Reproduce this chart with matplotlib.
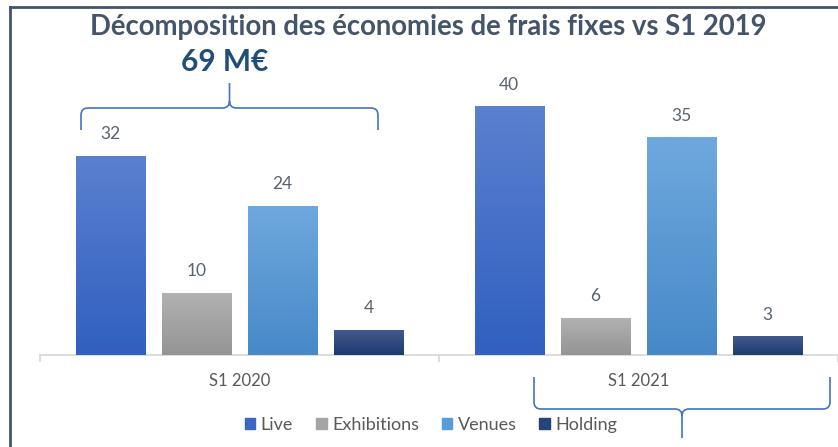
import matplotlib
matplotlib.use('Agg')
import matplotlib.pyplot as plt
import matplotlib.transforms as mtransforms
from matplotlib.path import Path
from matplotlib.patches import PathPatch
from matplotlib.lines import Line2D
import matplotlib.colors as mcolors
import numpy as np

periods = ["S1 2020", "S1 2021"]
series = ["Live", "Exhibitions", "Venues", "Holding"]
live = [32, 40]
exhibitions = [10, 6]
venues = [24, 35]
holding = [4, 3]
total_label = "69 M€"
title = "Décomposition des économies de frais fixes vs S1 2019"

# (top colour, bottom colour) per series
colors = [("#5b80d0", "#3060c0"),
          ("#b2b2b2", "#949494"),
          ("#6fa8de", "#4789c8"),
          ("#44598a", "#1d3a72")]
legend_colors = ["#3a66c4", "#a5a5a5", "#5b9bd5", "#264478"]

plt.rcParams['font.family'] = ['Lato', 'DejaVu Sans']
TEXT = "#595959"
W, H = 838, 447

fig = plt.figure(figsize=(W / 100, H / 100), dpi=100)
# pixel coords with origin at top-left
px = mtransforms.Affine2D().scale(1, -1).translate(0, H).scale(1 / W, 1 / H) + fig.transFigure

ax = fig.add_axes([40 / W, (H - 355) / H, (W - 40) / W, 280 / H])
x = np.arange(len(periods))
step = 0.216
bw = 0.173
values = [live, exhibitions, venues, holding]
for i, (vals, (c_top, c_bot)) in enumerate(zip(values, colors)):
    pos = x + (i - 1.5) * step
    bars = ax.bar(pos, vals, width=bw, color=c_bot, zorder=2)
    cmap = mcolors.LinearSegmentedColormap.from_list("g", [c_bot, c_top])
    grad = np.linspace(0, 1, 100).reshape(-1, 1)
    for b, v in zip(bars, vals):
        im = ax.imshow(grad, cmap=cmap, origin='lower', aspect='auto', zorder=3,
                       extent=[b.get_x(), b.get_x() + bw, 0, v])
        im.set_clip_path(b)
        ax.text(b.get_x() + bw / 2, v + 2.2, f"{v}", ha='center', va='bottom',
                fontsize=12.5, color="#5a6272")

ax.set_xlim(-0.5, -0.5 + (W - 40) / 406)
ax.set_ylim(0, 280 / 6.22)
for s in ['top', 'right', 'left']:
    ax.spines[s].set_visible(False)
ax.spines['bottom'].set_color("#d9d9d9")
ax.spines['bottom'].set_linewidth(1.3)
ax.set_yticks([])
ax.set_xticks([-0.5, 0.5, 1.5])
ax.tick_params(axis='x', length=5, color="#d9d9d9", width=1.3, labelbottom=False)
for xi, lab in zip(x, periods):
    ax.text(xi, -4.2, lab, ha='center', va='center', fontsize=12, color=TEXT)

# frame lines (top and left)
fig.add_artist(Line2D([10, W], [7, 7], transform=px, color="#44546a", lw=2))
fig.add_artist(Line2D([10, 10], [7, H], transform=px, color="#44546a", lw=2))

fig.text(428 / W, (H - 27) / H, title, ha='center', va='center', fontsize=19.8,
         fontweight='bold', color="#44546a")
fig.text(225 / W, (H - 62) / H, total_label, ha='center', va='center', fontsize=21.5,
         fontweight='bold', color="#1f4e79")


def brace(x0, x1, yb, yend, ytip, r=7):
    xm = (x0 + x1) / 2
    d = 1 if yend > yb else -1
    verts = [(x0, yend), (x0, yb + d * r), (x0, yb), (x0 + r, yb),
             (xm - r, yb), (xm, yb), (xm, yb - d * r), (xm, ytip),
             (xm, yb - d * r), (xm, yb), (xm + r, yb),
             (x1 - r, yb), (x1, yb), (x1, yb + d * r), (x1, yend)]
    codes = [Path.MOVETO, Path.LINETO, Path.CURVE3, Path.CURVE3,
             Path.LINETO, Path.CURVE3, Path.CURVE3, Path.LINETO,
             Path.MOVETO, Path.CURVE3, Path.CURVE3,
             Path.LINETO, Path.CURVE3, Path.CURVE3, Path.LINETO]
    fig.add_artist(PathPatch(Path(verts, codes), transform=px, fill=False,
                             edgecolor="#4472c4", lw=1.2))


brace(81, 378, 108, 130, 83)
brace(534, 830, 409, 377, 438)

handles = [plt.Rectangle((0, 0), 1, 1, color=c) for c in legend_colors]
fig.legend(handles, series, loc='center', bbox_to_anchor=(431 / W, (H - 425) / H),
           ncol=4, frameon=False, fontsize=13, handlelength=0.6, handleheight=0.6,
           handletextpad=0.3, columnspacing=1.25, labelcolor=TEXT)

fig.savefig("out.png", dpi=100)
